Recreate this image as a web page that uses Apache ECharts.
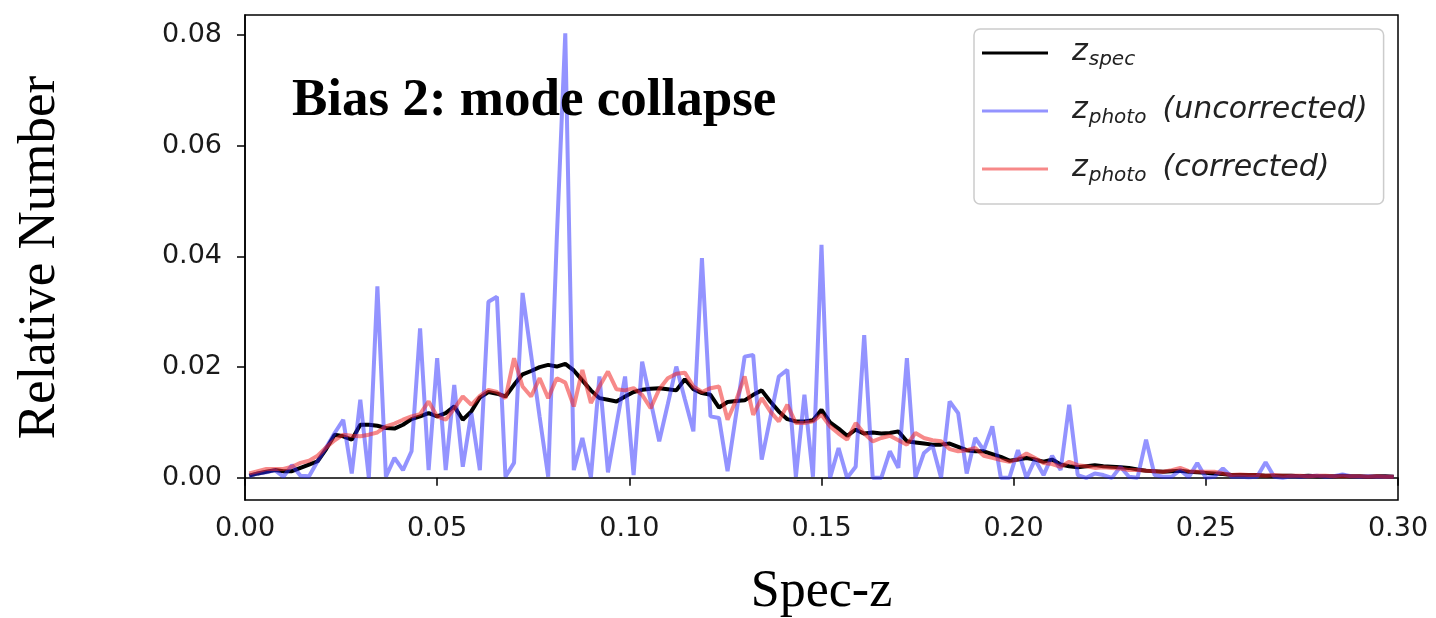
<!DOCTYPE html>
<html>
<head>
<meta charset="utf-8">
<script src="https://cdn.jsdelivr.net/npm/echarts@6/dist/echarts.min.js"></script>
<style>
  html, body { margin: 0; padding: 0; background: #fff; }
  #chart { width: 1436px; height: 618px; }
</style>
</head>
<body>
<div id="chart"></div>
<script>
// Redshift histograms: 135 bins spanning 0 <= z <= 0.3
const binWidth = 0.3 / 135;

const specZ = [
  0.0004, 0.0008, 0.0011, 0.0014, 0.0012, 0.0012, 0.0018, 0.0024, 0.0030, 0.0052,
  0.0078, 0.0075, 0.0069, 0.0096, 0.0096, 0.0094, 0.0090, 0.0089, 0.0096, 0.0106,
  0.0111, 0.0117, 0.0111, 0.0117, 0.0129, 0.0105, 0.0120, 0.0145, 0.0155, 0.0152,
  0.0147, 0.0168, 0.0187, 0.0193, 0.0200, 0.0204, 0.0201, 0.0206, 0.0194, 0.0176,
  0.0158, 0.0144, 0.0141, 0.0138, 0.0147, 0.0155, 0.0159, 0.0161, 0.0162, 0.0160,
  0.0158, 0.0178, 0.0160, 0.0153, 0.0150, 0.0127, 0.0137, 0.0139, 0.0140, 0.0150,
  0.0158, 0.0138, 0.0120, 0.0106, 0.0102, 0.0102, 0.0104, 0.0123, 0.0100, 0.0089,
  0.0076, 0.0087, 0.0080, 0.0082, 0.0080, 0.0081, 0.0084, 0.0066, 0.0064, 0.0062,
  0.0060, 0.0060, 0.0062, 0.0056, 0.0050, 0.0048, 0.0048, 0.0043, 0.0038, 0.0031,
  0.0033, 0.0036, 0.0033, 0.0029, 0.0033, 0.0024, 0.0021, 0.0019, 0.0021, 0.0023,
  0.0021, 0.0020, 0.0019, 0.0018, 0.0015, 0.0013, 0.0012, 0.0011, 0.0012, 0.0013,
  0.0011, 0.0010, 0.0009, 0.0008, 0.0007, 0.0005, 0.0005, 0.0005, 0.0005, 0.0004,
  0.0004, 0.0004, 0.0004, 0.0003, 0.0004, 0.0003, 0.0003, 0.0003, 0.0004, 0.0003,
  0.0003, 0.0002, 0.0003, 0.0003, 0.0002
];

const photoUncorrected = [
  0.0003, 0.0008, 0.0010, 0.0014, 0.0002, 0.0023, 0.0004, 0.0003, 0.0030, 0.0055,
  0.0081, 0.0105, 0.0008, 0.0141, 0.0000, 0.0346, 0.0002, 0.0036, 0.0014, 0.0048,
  0.0270, 0.0014, 0.0216, 0.0014, 0.0168, 0.0020, 0.0117, 0.0014, 0.0318, 0.0327,
  0.0002, 0.0027, 0.0334, 0.0222, 0.0110, 0.0002, 0.0430, 0.0803, 0.0014, 0.0072,
  0.0001, 0.0183, 0.0010, 0.0097, 0.0183, 0.0005, 0.0210, 0.0138, 0.0066, 0.0133,
  0.0201, 0.0142, 0.0084, 0.0397, 0.0111, 0.0108, 0.0012, 0.0115, 0.0219, 0.0222,
  0.0033, 0.0108, 0.0183, 0.0195, 0.0002, 0.0150, 0.0002, 0.0421, 0.0000, 0.0054,
  0.0000, 0.0020, 0.0258, 0.0000, 0.0000, 0.0048, 0.0018, 0.0216, 0.0001, 0.0045,
  0.0058, 0.0000, 0.0138, 0.0117, 0.0008, 0.0072, 0.0050, 0.0093, 0.0000, 0.0000,
  0.0050, 0.0000, 0.0033, 0.0005, 0.0040, 0.0014, 0.0132, 0.0005, 0.0000, 0.0008,
  0.0005, 0.0000, 0.0020, 0.0002, 0.0000, 0.0069, 0.0005, 0.0002, 0.0002, 0.0014,
  0.0001, 0.0027, 0.0000, 0.0002, 0.0017, 0.0002, 0.0002, 0.0001, 0.0002, 0.0028,
  0.0002, 0.0000, 0.0003, 0.0002, 0.0003, 0.0004, 0.0002, 0.0003, 0.0006, 0.0003,
  0.0002, 0.0003, 0.0002, 0.0002, 0.0002
];

const photoCorrected = [
  0.0008, 0.0012, 0.0016, 0.0016, 0.0016, 0.0020, 0.0027, 0.0031, 0.0040, 0.0055,
  0.0068, 0.0078, 0.0076, 0.0075, 0.0078, 0.0082, 0.0093, 0.0098, 0.0105, 0.0111,
  0.0115, 0.0138, 0.0111, 0.0105, 0.0125, 0.0147, 0.0132, 0.0148, 0.0159, 0.0155,
  0.0144, 0.0216, 0.0165, 0.0147, 0.0180, 0.0144, 0.0180, 0.0172, 0.0129, 0.0195,
  0.0135, 0.0165, 0.0192, 0.0160, 0.0158, 0.0162, 0.0150, 0.0126, 0.0160, 0.0180,
  0.0188, 0.0190, 0.0165, 0.0155, 0.0162, 0.0165, 0.0105, 0.0140, 0.0183, 0.0114,
  0.0144, 0.0120, 0.0102, 0.0132, 0.0099, 0.0099, 0.0102, 0.0114, 0.0093, 0.0080,
  0.0069, 0.0099, 0.0080, 0.0066, 0.0072, 0.0076, 0.0068, 0.0060, 0.0081, 0.0072,
  0.0068, 0.0066, 0.0052, 0.0048, 0.0050, 0.0054, 0.0040, 0.0036, 0.0032, 0.0029,
  0.0034, 0.0044, 0.0036, 0.0027, 0.0025, 0.0020, 0.0029, 0.0023, 0.0021, 0.0018,
  0.0019, 0.0018, 0.0017, 0.0014, 0.0014, 0.0013, 0.0012, 0.0011, 0.0014, 0.0018,
  0.0012, 0.0011, 0.0011, 0.0011, 0.0008, 0.0005, 0.0006, 0.0005, 0.0005, 0.0004,
  0.0005, 0.0004, 0.0004, 0.0004, 0.0003, 0.0004, 0.0004, 0.0003, 0.0003, 0.0003,
  0.0003, 0.0002, 0.0003, 0.0002, 0.0002
];

const yTicks = [0, 0.02, 0.04, 0.06, 0.08];
const seriesNames = ['spec', 'uncorrected', 'corrected'];

// bin centres on the redshift axis
const binCenters = specZ.map((_, i) => (i + 0.5) * binWidth);
const pairs = vals => vals.map((v, i) => [binCenters[i], v]);

const chart = echarts.init(document.getElementById('chart'), null, { renderer: 'canvas' });

const tickFont = { fontFamily: 'DejaVu Sans', fontSize: 27, color: '#1a1a1a' };
const mathBase = { fontFamily: 'DejaVu Sans', fontStyle: 'italic', color: '#222', verticalAlign: 'top' };

chart.setOption({
  animation: false,
  backgroundColor: '#fff',
  title: {
    text: 'Bias 2: mode collapse',
    left: 292,
    top: 75,
    padding: 0,
    textStyle: { fontFamily: 'Liberation Serif', fontWeight: 'bold', fontSize: 53, color: '#000' }
  },
  grid: {
    left: 245, right: 38, top: 15, bottom: 118,
    outerBoundsMode: 'none',
    show: true, borderColor: '#000', borderWidth: 1.5, backgroundColor: '#fff'
  },
  legend: {
    orient: 'vertical',
    left: 974,
    top: 29,
    padding: [8, 16, 18, 8],
    itemGap: 25,
    itemWidth: 66,
    itemHeight: 3,
    icon: 'rect',
    backgroundColor: '#fff',
    borderColor: '#cccccc',
    borderWidth: 1.5,
    borderRadius: 6,
    data: seriesNames,
    formatter: name => name === 'spec'
      ? '{z|z}{sub|spec}'
      : '{z|z}{sub|photo}{it|(' + name + ')}',
    textStyle: {
      rich: {
        z: Object.assign({}, mathBase, { fontSize: 30, lineHeight: 32, padding: [0, 0, 0, 19] }),
        sub: Object.assign({}, mathBase, { fontSize: 20, lineHeight: 22, padding: [13, 0, 0, 1] }),
        it: Object.assign({}, mathBase, { fontSize: 30, lineHeight: 32, padding: [0, 0, 0, 16] })
      }
    }
  },
  xAxis: {
    type: 'value',
    min: 0,
    max: 0.3,
    interval: 0.05,
    name: 'Spec-z',
    nameLocation: 'middle',
    nameGap: 66,
    nameTextStyle: { fontFamily: 'Liberation Serif', fontSize: 52, color: '#000' },
    axisLine: { show: true, lineStyle: { color: '#000', width: 1.5 } },
    axisTick: { show: true, inside: false, length: 8, lineStyle: { color: '#000', width: 1.5 } },
    axisLabel: Object.assign({ margin: 15, formatter: v => v.toFixed(2) }, tickFont),
    splitLine: { show: false }
  },
  yAxis: {
    type: 'value',
    min: -0.004,
    max: 0.0836,
    name: 'Relative Number',
    nameLocation: 'middle',
    nameRotate: 90,
    nameGap: 178,
    nameTextStyle: { fontFamily: 'Liberation Serif', fontSize: 53, color: '#000' },
    axisLine: { show: true, lineStyle: { color: '#000', width: 1.5 } },
    axisTick: { show: true, inside: false, length: 8, customValues: yTicks, lineStyle: { color: '#000', width: 1.5 } },
    axisLabel: Object.assign({ margin: 23, customValues: yTicks, formatter: v => v.toFixed(2) }, tickFont),
    splitLine: { show: false }
  },
  series: [
    {
      name: 'spec', type: 'line', data: pairs(specZ), showSymbol: false, z: 2,
      color: '#000', lineStyle: { color: '#000', width: 4 }
    },
    {
      name: 'uncorrected', type: 'line', data: pairs(photoUncorrected), showSymbol: false, z: 3,
      color: 'rgba(40,40,255,0.5)', lineStyle: { color: 'rgba(40,40,255,0.5)', width: 4 }
    },
    {
      name: 'corrected', type: 'line', data: pairs(photoCorrected), showSymbol: false, z: 4,
      color: 'rgba(240,40,40,0.55)', lineStyle: { color: 'rgba(240,40,40,0.55)', width: 4 }
    }
  ]
});
</script>
</body>
</html>
